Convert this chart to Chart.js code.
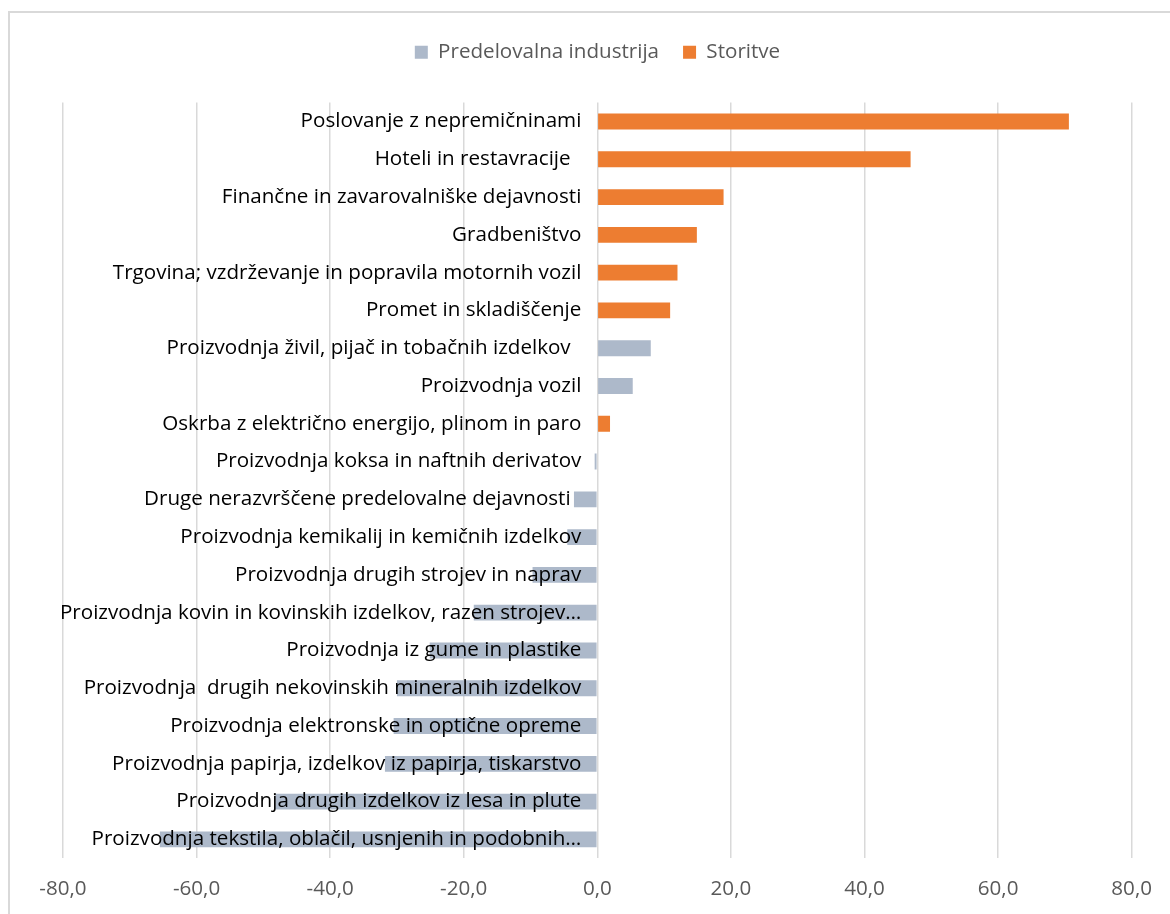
<!DOCTYPE html>
<html>
<head>
<meta charset="utf-8">
<script src="https://cdn.jsdelivr.net/npm/chart.js@4/dist/chart.umd.min.js"></script>
<style>
  body { margin: 0; background: #fff; }
  #wrap { position: relative; width: 1170px; height: 914px; overflow: hidden; }
  #frame {
    position: absolute; left: 8px; top: 11px; width: 1200px; height: 950px;
    border-left: 2px solid #d9d9d9; border-top: 2px solid #d9d9d9;
  }
  canvas { position: absolute; left: 0; top: 0; }
</style>
</head>
<body>
<div id="wrap">
  <div id="frame"></div>
  <canvas id="myChart" width="1170" height="914"></canvas>
</div>
<script>
// dejavnosti, od najvecje do najmanjse spremembe
var categories = [
  'Poslovanje z nepremičninami',
  'Hoteli in restavracije  ',
  'Finančne in zavarovalniške dejavnosti',
  'Gradbeništvo',
  'Trgovina; vzdrževanje in popravila motornih vozil',
  'Promet in skladiščenje',
  'Proizvodnja živil, pijač in tobačnih izdelkov  ',
  'Proizvodnja vozil',
  'Oskrba z električno energijo, plinom in paro',
  'Proizvodnja koksa in naftnih derivatov',
  'Druge nerazvrščene predelovalne dejavnosti  ',
  'Proizvodnja kemikalij in kemičnih izdelkov',
  'Proizvodnja drugih strojev in naprav',
  'Proizvodnja kovin in kovinskih izdelkov, razen strojev…',
  'Proizvodnja iz gume in plastike',
  'Proizvodnja  drugih nekovinskih mineralnih izdelkov',
  'Proizvodnja elektronske in optične opreme',
  'Proizvodnja papirja, izdelkov iz papirja, tiskarstvo',
  'Proizvodnja drugih izdelkov iz lesa in plute',
  'Proizvodnja tekstila, oblačil, usnjenih in podobnih…'
];

var predelovalna = [null, null, null, null, null, null, 8.0, 5.3, null, -0.4,
  -3.5, -4.5, -9.7, -18.5, -25.1, -30.0, -30.5, -31.8, -48.2, -65.5];

var storitve = [70.6, 46.9, 18.9, 14.9, 12.0, 10.9, null, null, 1.9, null,
  null, null, null, null, null, null, null, null, null, null];

var xTicks = [-80, -60, -40, -20, 0, 20, 40, 60, 80];

var FONT = "'Open Sans', sans-serif";
Chart.defaults.font.family = FONT;
Chart.defaults.font.size = 20.6;

// imena kategorij izpisemo ob nicli, cez stolpce
var zeroLabels = {
  id: 'zeroLabels',
  afterDatasetsDraw: function(chart) {
    var ctx = chart.ctx;
    var xs = chart.scales.x, ys = chart.scales.y;
    var x0 = xs.getPixelForValue(0) - 16;
    ctx.save();
    ctx.font = '20.6px ' + FONT;
    ctx.fillStyle = '#000';
    ctx.textAlign = 'right';
    ctx.textBaseline = 'middle';
    categories.forEach(function(name, i) {
      ctx.fillText(name, x0, ys.getPixelForValue(i));
    });
    ctx.restore();
  }
};

// vec prostora pod legendo
var legendGap = {
  id: 'legendGap',
  beforeInit: function(chart) {
    var fit = chart.legend.fit;
    chart.legend.fit = function() {
      fit.bind(chart.legend)();
      this.height += 30;
    };
  }
};

window.onload = function() {
  var ctx = document.getElementById('myChart').getContext('2d');

  var chart = new Chart(ctx, {
    type: 'bar',
    data: {
      labels: categories,
      datasets: [
        {
          label: 'Predelovalna industrija',
          data: predelovalna,
          backgroundColor: '#adb9ca',
          barPercentage: 0.42,
          categoryPercentage: 1
        },
        {
          label: 'Storitve',
          data: storitve,
          backgroundColor: '#ed7d31',
          barPercentage: 0.42,
          categoryPercentage: 1
        }
      ]
    },
    options: {
      indexAxis: 'y',
      responsive: false,
      animation: false,
      layout: { padding: { left: 63, right: 38, top: 18, bottom: -5 } },
      plugins: {
        legend: {
          position: 'top',
          labels: {
            color: '#595959',
            boxWidth: 13,
            boxHeight: 13,
            padding: 24,
            font: { size: 20.6 }
          }
        },
        tooltip: { enabled: false }
      },
      scales: {
        x: {
          min: -80,
          max: 80,
          afterBuildTicks: function(axis) {
            axis.ticks = xTicks.map(function(v) { return { value: v }; });
          },
          grid: { color: '#d9d9d9', lineWidth: 1.5, drawTicks: false },
          border: { display: false },
          ticks: {
            color: '#595959',
            padding: 18,
            callback: function(v) { return v.toFixed(1).replace('.', ','); }
          }
        },
        y: {
          display: false,
          stacked: true
        }
      }
    },
    plugins: [zeroLabels, legendGap]
  });
};
</script>
</body>
</html>
